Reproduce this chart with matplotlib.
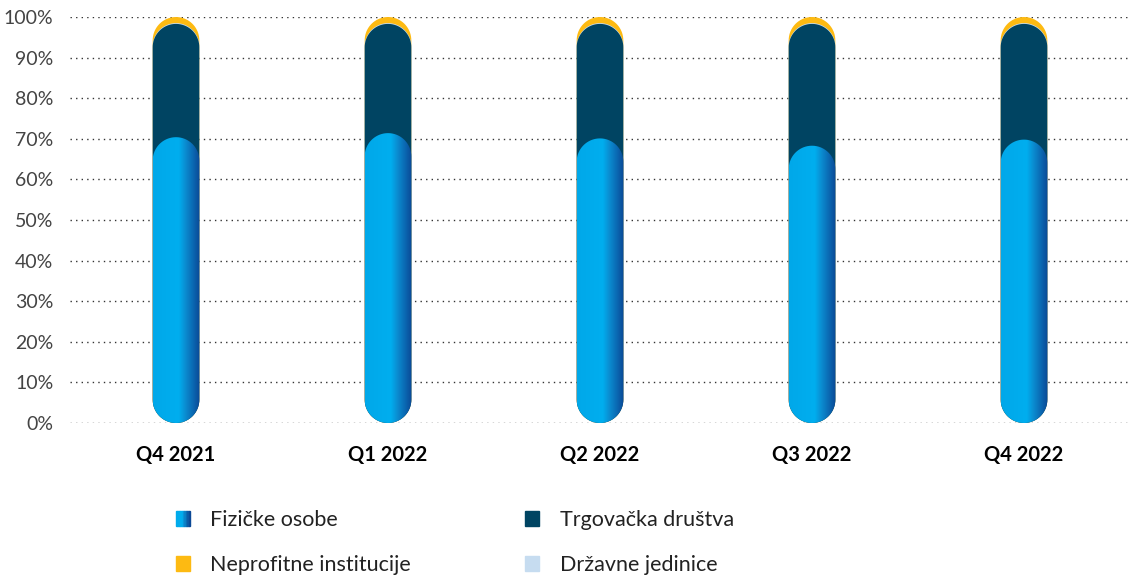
import numpy as np
import matplotlib.pyplot as plt
from matplotlib.patches import Polygon, Rectangle
from matplotlib.colors import LinearSegmentedColormap
from matplotlib.legend_handler import HandlerTuple

categories = ['Q4 2021', 'Q1 2022', 'Q2 2022', 'Q3 2022', 'Q4 2022']
fizicke = [70.4, 71.4, 70.1, 68.3, 69.8]
trgovacka = [27.9, 26.9, 28.2, 30.0, 28.5]
drzavne = [0.2, 0.2, 0.2, 0.2, 0.2]
neprofitne = [1.5, 1.5, 1.5, 1.5, 1.5]

c_dark = '#004462'
c_yellow = '#fdba12'
c_light = '#c6dcf0'
grad = LinearSegmentedColormap.from_list(
    'fiz', [(0, '#00a8e9'), (0.55, '#00aeef'), (0.68, '#0a8fd3'), (1, '#0b4896')])

W, H = 1136, 579
fig = plt.figure(figsize=(W / 100, H / 100), dpi=100)
ax = fig.add_axes([70 / W, (H - 423) / H, (1130 - 70) / W, (423 - 17) / H])
ax.set_xlim(-0.5, 4.5)
ax.set_ylim(0, 100)

x = np.arange(len(categories))
bw = 0.22
# pixels per data unit, so the caps come out round
ppx = (1130 - 70) / 5
ppy = (423 - 17) / 100
ry = (bw / 2) * ppx / ppy

cum1 = np.array(fizicke)
cum2 = cum1 + np.array(trgovacka)
cum3 = cum2 + np.array(drzavne)
cum4 = cum3 + np.array(neprofitne)

th = np.linspace(0, np.pi, 40)


def pill(xc, top, color, z):
    r = bw / 2
    top_x = xc + r * np.cos(th)
    top_y = top - ry + ry * np.sin(th)
    bot_x = xc - r * np.cos(th)
    bot_y = ry - ry * np.sin(th)
    verts = np.column_stack([np.r_[top_x, bot_x], np.r_[top_y, bot_y]])
    p = Polygon(verts, closed=True, facecolor=color, edgecolor='none', zorder=z)
    ax.add_patch(p)
    return p


gimg = np.linspace(0, 1, 256).reshape(1, -1)
for i, xc in enumerate(x):
    pill(xc, cum4[i], c_yellow, 2)
    pill(xc, cum3[i], c_light, 3)
    pill(xc, cum2[i], c_dark, 4)
    p = pill(xc, cum1[i], 'none', 5)
    im = ax.imshow(gimg, cmap=grad, aspect='auto', zorder=5,
                   extent=(xc - bw / 2, xc + bw / 2, 0, cum1[i]))
    im.set_clip_path(p)

ax.set_xlim(-0.5, 4.5)
ax.set_ylim(0, 100)

ax.set_yticks(np.arange(0, 101, 10))
ax.set_yticklabels([f'{v}%' for v in range(0, 101, 10)])
ax.set_xticks(x)
ax.set_xticklabels(categories)
ax.tick_params(axis='y', length=0, pad=12, labelsize=14, labelcolor='#444444')
ax.tick_params(axis='x', length=0, pad=16, labelsize=14.5)
for t in ax.get_yticklabels():
    t.set_fontfamily('Lato')
for t in ax.get_xticklabels():
    t.set_fontfamily('Lato')
    t.set_fontweight('bold')

ax.grid(axis='y', linestyle=(0, (1, 3)), color='#333333', linewidth=1)
ax.set_axisbelow(True)
for s in ax.spines.values():
    s.set_visible(False)

# legend, gradient square made from thin slices
n = 10
fiz_handle = tuple(Rectangle((0, 0), 1, 1, color=grad(v)) for v in np.linspace(0.2, 1, n))
handles = [fiz_handle, Rectangle((0, 0), 1, 1, color=c_yellow),
           Rectangle((0, 0), 1, 1, color=c_dark), Rectangle((0, 0), 1, 1, color=c_light)]
labels = ['Fizičke osobe', 'Neprofitne institucije', 'Trgovačka društva', 'Državne jedinice']
leg = fig.legend(handles, labels, ncol=2, loc='upper left',
                 bbox_to_anchor=(176 / W, 1 - 510 / H), frameon=False,
                 borderpad=0, borderaxespad=0,
                 handler_map={tuple: HandlerTuple(ndivide=None, pad=0)},
                 handlelength=0.65, handleheight=0.65, handletextpad=0.95,
                 columnspacing=5.3, labelspacing=1.17,
                 prop={'family': 'Lato', 'size': 15.5})
for t in leg.get_texts():
    t.set_color('#222222')

fig.savefig('out.png', dpi=100)
